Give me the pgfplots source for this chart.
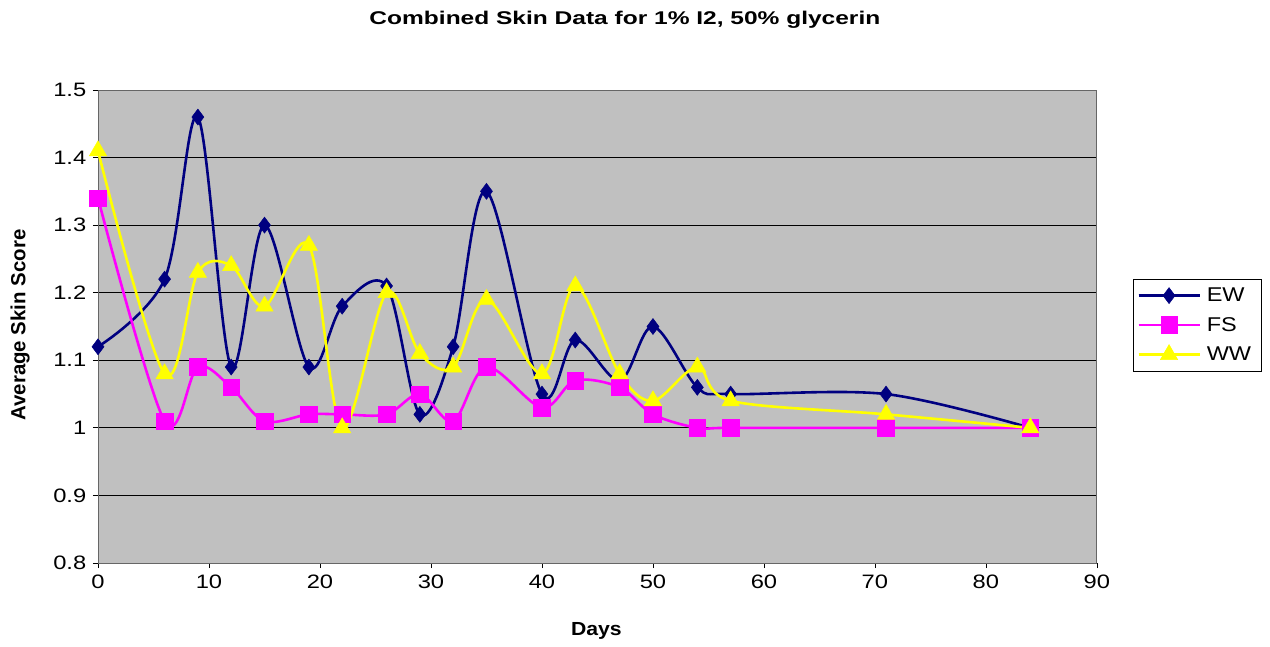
\documentclass[border=0pt]{standalone}
\usepackage{fontspec}
\setmainfont{Liberation Sans}
\usepackage{pgfplots}
\pgfplotsset{compat=1.18}
\definecolor{ew}{HTML}{000080}
\definecolor{fs}{HTML}{FF00FF}
\definecolor{ww}{HTML}{FFFF00}
\definecolor{bg}{HTML}{C0C0C0}
\begin{document}
\begin{tikzpicture}
\path[use as bounding box] (0,0) rectangle (1270bp,647bp);
\begin{axis}[
  at={(98bp,84bp)}, anchor=south west,
  scale only axis, width=999bp, height=473bp,
  xmin=0, xmax=90, ymin=0.8, ymax=1.5,
  xtick={0,10,...,90}, ytick={0.8,0.9,...,1.5},
  xtick pos=bottom, ytick pos=left,
  axis background/.style={fill=bg},
  axis line style={draw=gray!80!black, line width=1bp},
  ymajorgrids, grid style={black, line width=0.8bp},
  tick align=outside, tick style={black, line width=0.8bp},
  major tick length=5bp,
  /pgf/number format/assume math mode=true,
  /pgf/number format/fixed,
  tick label style={font=\fontsize{19.5}{21}\selectfont, xscale=1.22},
  yticklabel style={xshift=-2bp},
  xticklabel style={yshift=-3bp},
  xlabel={\bfseries Days}, ylabel={\bfseries Average Skin Score},
  xlabel style={at={(rel axis cs:0.499,-0.144)}, anchor=center, font=\fontsize{19}{21}\selectfont, xscale=1.12},
  ylabel style={at={(rel axis cs:-0.078,0.503)}, anchor=center, font=\fontsize{20.5}{22}\selectfont},
  title={\bfseries Combined Skin Data for 1\% I2, 50\% glycerin},
  title style={at={(rel axis cs:0.5275,1.136)}, anchor=center, font=\fontsize{18.5}{20}\selectfont, xscale=1.33},
  legend style={at={(rel axis cs:1.036,0.503)}, anchor=west, draw=black, line width=0.8bp,
    font=\fontsize{20}{23}\selectfont, row sep=10bp, inner xsep=4bp, inner ysep=7bp,
    nodes={xscale=1.18, inner xsep=5bp}},
  legend cell align=left,
  legend image code/.code={\draw[#1] (0bp,0bp) -- (61bp,0bp); \draw[#1, mark repeat=2, mark phase=2] plot coordinates {(0bp,0bp) (30.5bp,0bp) (61bp,0bp)};},
  every axis plot/.append style={line width=2.6bp, smooth, tension=0.55},
]
\addplot[color=ew, mark=diamond*, mark size=8bp, mark options={fill=ew, line width=0.5bp}] coordinates {
(0,1.12)(6,1.22)(9,1.46)(12,1.09)(15,1.30)(19,1.09)(22,1.18)(26,1.21)(29,1.02)(32,1.12)(35,1.35)(40,1.05)(43,1.13)(47,1.07)(50,1.15)(54,1.06)(57,1.05)(71,1.05)(84,1.00)};
\addlegendentry{EW}
\addplot[color=fs, mark=square*, mark size=8.3bp, mark options={fill=fs, line width=0.5bp}] coordinates {
(0,1.34)(6,1.01)(9,1.09)(12,1.06)(15,1.01)(19,1.02)(22,1.02)(26,1.02)(29,1.05)(32,1.01)(35,1.09)(40,1.03)(43,1.07)(47,1.06)(50,1.02)(54,1.00)(57,1.00)(71,1.00)(84,1.00)};
\addlegendentry{FS}
\addplot[color=ww, mark=triangle*, mark size=10bp, mark options={fill=ww, line width=0.5bp}] coordinates {
(0,1.41)(6,1.08)(9,1.23)(12,1.24)(15,1.18)(19,1.27)(22,1.00)(26,1.20)(29,1.11)(32,1.09)(35,1.19)(40,1.08)(43,1.21)(47,1.08)(50,1.04)(54,1.09)(57,1.04)(71,1.02)(84,1.00)};
\addlegendentry{WW}
\end{axis}
\end{tikzpicture}
\end{document}
